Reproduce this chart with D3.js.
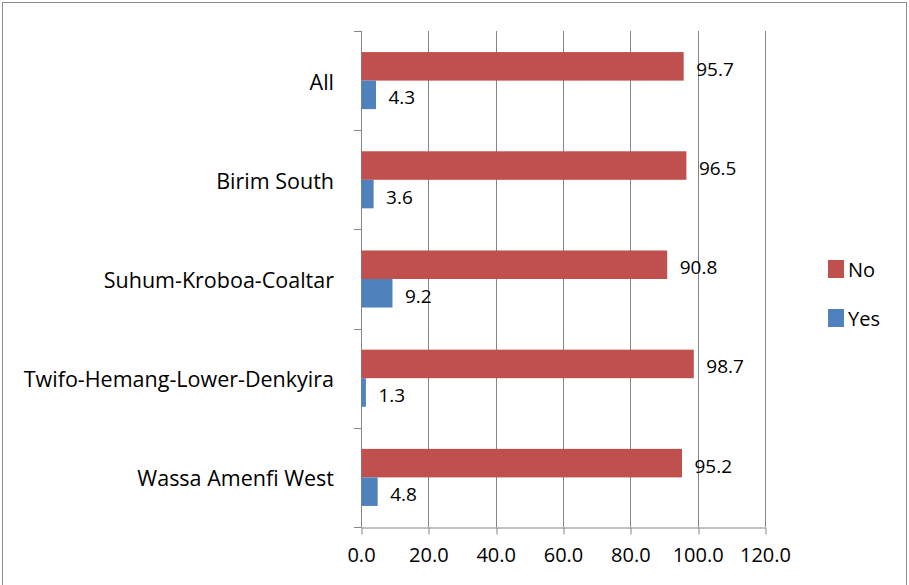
<!DOCTYPE html>
<html><head><meta charset="utf-8">
<script src="https://cdn.jsdelivr.net/npm/d3@7"></script>
<style>html,body{margin:0;padding:0;background:#fff;}svg{display:block;font-family:"Open Sans",sans-serif;}</style>
</head><body>
<svg id="c" width="909" height="585"></svg>
<script>
const categories = ["All","Birim South","Suhum-Kroboa-Coaltar","Twifo-Hemang-Lower-Denkyira","Wassa Amenfi West"];
const noValues = [95.7, 96.5, 90.8, 98.7, 95.2];
const yesValues = [4.3, 3.6, 9.2, 1.3, 4.8];
const xTicks = [0,20,40,60,80,100,120];
const seriesNames = ["No","Yes"];
const colors = {No:"#C0504D", Yes:"#4F81BD"};

const svg = d3.select("#c");
svg.append("rect").attr("x",2.5).attr("y",2.5).attr("width",904).attr("height",600)
  .attr("fill","none").attr("stroke","#8c8c8c").attr("stroke-width",1);

const L=361, R=765, T=31, B=527;
const x = d3.scaleLinear().domain([0,120]).range([L,R]);
const y = d3.scaleBand().domain(categories).range([T,B]).paddingInner(0.425).paddingOuter(0.2125);
const sub = d3.scaleBand().domain(seriesNames).range([0,y.bandwidth()]);

// gridlines
svg.append("g").selectAll("line").data(xTicks.filter(d=>d>0)).join("line")
  .attr("x1",d=>Math.round(x(d))+0.5).attr("x2",d=>Math.round(x(d))+0.5)
  .attr("y1",T).attr("y2",B).attr("stroke","#868686").attr("stroke-width",1);

// x axis
const xa = svg.append("g").attr("transform",`translate(0,${B+0.5})`)
  .call(d3.axisBottom(x).tickValues(xTicks).tickFormat(d3.format(".1f")).tickSize(7).tickSizeOuter(0));
xa.select(".domain").attr("stroke","#868686");
xa.selectAll(".tick line").attr("stroke","#868686").attr("transform",d=>`translate(${Math.round(x(d))+0.5-x(d)},0)`);
xa.selectAll(".tick text").attr("font-size","20px").attr("font-family","Open Sans").attr("fill","#000")
  .attr("y",34.5).attr("dy",null);

// y axis with ticks at band boundaries
const boundaries = d3.range(categories.length+1).map(i=>T+i*(B-T)/categories.length);
svg.append("line").attr("x1",L+0.5).attr("x2",L+0.5).attr("y1",T).attr("y2",B).attr("stroke","#868686");
svg.append("g").selectAll("line").data(boundaries).join("line")
  .attr("x1",L-7).attr("x2",L+0.5).attr("y1",d=>Math.round(d)+0.5).attr("y2",d=>Math.round(d)+0.5)
  .attr("stroke","#868686");

svg.append("g").selectAll("text").data(categories).join("text")
  .attr("x",334).attr("y",d=>y(d)+y.bandwidth()/2+9)
  .attr("text-anchor","end").attr("font-size","21.5px").attr("fill","#000").text(d=>d);

// bars
const rows = categories.map((c,i)=>({c, No:noValues[i], Yes:yesValues[i]}));
const g = svg.append("g");
seriesNames.forEach(s=>{
  g.selectAll("rect."+s).data(rows).join("rect").attr("class",s)
    .attr("x",x(0)+0.5).attr("y",d=>y(d.c)+sub(s))
    .attr("width",d=>x(d[s])-x(0)).attr("height",sub.bandwidth())
    .attr("fill",colors[s]);
  g.selectAll("text."+s).data(rows).join("text").attr("class",s)
    .attr("x",d=>x(d[s])+13).attr("y",d=>y(d.c)+sub(s)+sub.bandwidth()/2+9.5)
    .attr("font-size","19px").attr("fill","#000")
    .text(d=>d3.format(".1f")(d[s]));
});

// legend
const lg = svg.append("g");
seriesNames.forEach((s,i)=>{
  lg.append("rect").attr("x",828).attr("y",260+i*49).attr("width",16).attr("height",18).attr("fill",colors[s]);
  lg.append("text").attr("x",848).attr("y",277+i*49).attr("font-size","20px").attr("fill","#000").text(s);
});
</script>
</body></html>
